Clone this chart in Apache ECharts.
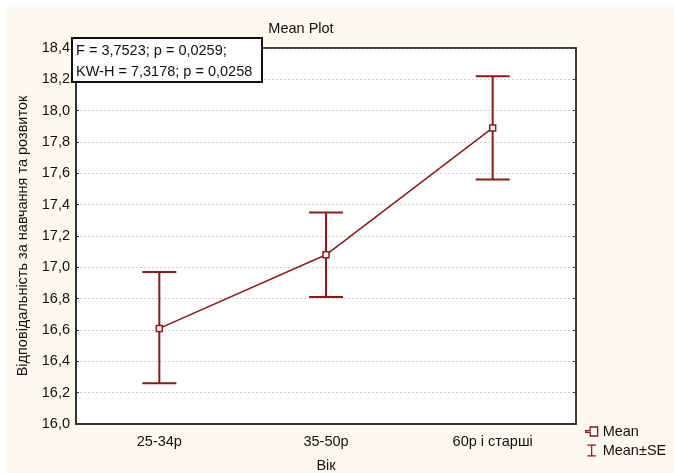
<!DOCTYPE html>
<html>
<head>
<meta charset="utf-8">
<script src="https://cdn.jsdelivr.net/npm/echarts@6/dist/echarts.min.js"></script>
<style>
  html, body { margin: 0; padding: 0; background: #fff; }
  #chart { width: 674px; height: 473px; }
</style>
</head>
<body>
<div id="chart"></div>
<script>
const categories = ['25-34р', '35-50р', '60р і старші']
const means = [16.61, 17.08, 17.89]
const upper = [16.97, 17.35, 18.22]
const lower = [16.26, 16.81, 17.56]

const red = '#8b1a1a'
const fs = 14.5
const font = 'Liberation Sans, Arial, sans-serif'
const comma = v => v.toFixed(1).replace('.', ',')

const chart = echarts.init(document.getElementById('chart'))

chart.setOption({
  animation: false,
  textStyle: { fontFamily: font, color: '#111' },
  graphic: [{
    type: 'rect',
    z: -10,
    shape: { x: 6, y: 7, width: 668, height: 466 },
    style: { fill: '#fdf9ef' }
  }, {
    type: 'rect',
    z: 100,
    shape: { x: 72, y: 38, width: 190, height: 44 },
    style: { fill: '#fff', stroke: '#111', lineWidth: 2 }
  }, {
    type: 'text',
    z: 101,
    x: 76, y: 40,
    style: {
      text: 'F = 3,7523; p = 0,0259;\nKW-H = 7,3178; p = 0,0258',
      font: fs + 'px ' + font,
      lineHeight: 21,
      fill: '#111'
    }
  }],
  title: {
    text: 'Mean Plot',
    left: 296, top: 16,
    textAlign: 'center',
    textStyle: { fontSize: fs, fontWeight: 'normal', color: '#111' }
  },
  legend: {
    orient: 'vertical',
    left: 580, top: 419,
    itemGap: 4,
    itemWidth: 12, itemHeight: 12,
    textStyle: { fontSize: fs, color: '#111' },
    data: [
      {
        name: 'Mean',
        icon: 'path://M0,5.4H3V3H8V9H3V6.6H0Z',
        itemStyle: { color: '#fff', borderColor: red, borderWidth: 1.3 }
      },
      {
        name: 'Mean±SE',
        icon: 'path://M0,0H10V1.5H5.7V12.5H10V14H0V12.5H4.3V1.5H0Z',
        itemStyle: { color: red }
      }
    ]
  },
  grid: {
    left: 76, right: 98, top: 48, bottom: 49,
    outerBoundsMode: 'none',
    show: true, backgroundColor: '#fff', borderColor: '#333', borderWidth: 1.5
  },
  xAxis: [{
    type: 'category',
    data: categories,
    name: 'Вік',
    nameLocation: 'middle',
    nameGap: 34,
    nameTextStyle: { fontSize: fs, color: '#111' },
    axisLine: { lineStyle: { color: '#333', width: 2 } },
    axisTick: { inside: true, alignWithLabel: true, length: 4, lineStyle: { color: '#333' } },
    axisLabel: { fontSize: fs, color: '#111', margin: 10 }
  }, {
    type: 'category',
    data: categories,
    position: 'top',
    axisLine: { lineStyle: { color: '#333', width: 1.5 } },
    axisTick: { inside: true, alignWithLabel: true, length: 4, lineStyle: { color: '#333' } },
    axisLabel: { show: false }
  }],
  yAxis: [{
    type: 'value',
    min: 16, max: 18.4, interval: 0.2,
    name: 'Відповідальність за навчання та розвиток',
    nameLocation: 'middle',
    nameGap: 46,
    nameTextStyle: { fontSize: fs, color: '#111' },
    axisLine: { show: true, lineStyle: { color: '#333', width: 2 } },
    axisTick: { show: true, inside: true, length: 3, lineStyle: { color: '#333' } },
    axisLabel: { fontSize: fs, color: '#111', margin: 6, formatter: comma },
    splitLine: { show: true, lineStyle: { color: '#d0d0d0', type: [2, 2], width: 1 } }
  }, {
    type: 'value',
    min: 16, max: 18.4, interval: 0.2,
    position: 'right',
    axisLine: { show: true, lineStyle: { color: '#333', width: 1.5 } },
    axisTick: { show: true, inside: true, length: 3, lineStyle: { color: '#333' } },
    axisLabel: { show: false },
    splitLine: { show: false }
  }],
  series: [{
    name: 'Mean±SE',
    type: 'custom',
    itemStyle: { color: red },
    data: categories.map((c, i) => [i, lower[i], upper[i]]),
    encode: { x: 0, y: [1, 2] },
    renderItem(params, api) {
      const x = api.value(0)
      const lo = api.coord([x, api.value(1)])
      const hi = api.coord([x, api.value(2)])
      const hw = 17
      const style = { stroke: red, lineWidth: 2 }
      return {
        type: 'group',
        children: [
          { type: 'line', shape: { x1: lo[0], y1: lo[1], x2: hi[0], y2: hi[1] }, style },
          { type: 'line', shape: { x1: hi[0] - hw, y1: hi[1], x2: hi[0] + hw, y2: hi[1] }, style },
          { type: 'line', shape: { x1: lo[0] - hw, y1: lo[1], x2: lo[0] + hw, y2: lo[1] }, style }
        ]
      }
    },
    z: 2
  }, {
    name: 'Mean',
    type: 'line',
    data: means,
    symbol: 'rect',
    symbolSize: 6,
    itemStyle: { color: '#fff', borderColor: red, borderWidth: 1.5 },
    lineStyle: { color: red, width: 1.5 },
    z: 3
  }]
})
</script>
</body>
</html>
